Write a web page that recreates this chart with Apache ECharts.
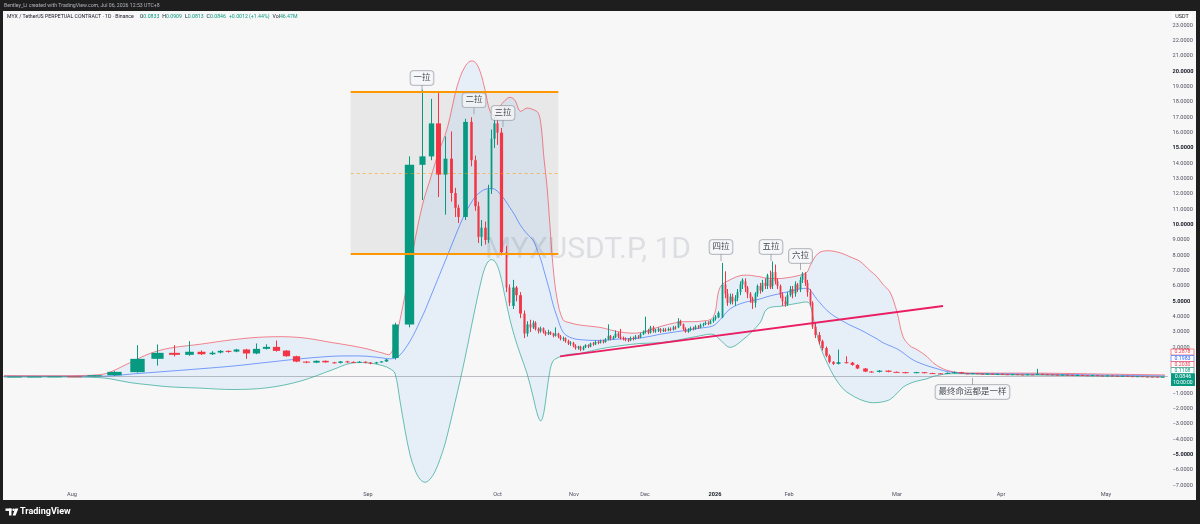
<!DOCTYPE html>
<html>
<head>
<meta charset="utf-8">
<title>MYXUSDT.P 1D</title>
<script src="https://cdn.jsdelivr.net/npm/echarts@6/dist/echarts.min.js"></script>
<style>
  html, body { margin: 0; padding: 0; background: #1e1e1e; }
  #chart { width: 1200px; height: 524px; }
</style>
</head>
<body>
<div id="chart"></div>
<script>
// 数据
// K线：[横向位置, 开, 收, 低, 高]（截图的时间轴不均匀，位置按图读取）
let candles = [
  [14, 0.09, 0.10, 0.08, 0.11], [34, 0.10, 0.10, 0.09, 0.12], [54, 0.10, 0.11, 0.09, 0.12],
  [74, 0.11, 0.10, 0.09, 0.13], [94, 0.10, 0.18, 0.09, 0.20], [114, 0.18, 0.40, 0.15, 0.45],
  [137, 0.38, 1.25, 0.35, 2.14], [157, 1.25, 1.64, 0.81, 2.18], [174, 1.64, 1.51, 1.40, 2.14],
  [189, 1.51, 1.71, 1.45, 2.40], [201, 1.71, 1.55, 1.50, 1.80], [212, 1.55, 1.65, 1.50, 1.75],
  [220, 1.66, 1.77, 1.60, 1.82], [228, 1.77, 1.70, 1.65, 1.80], [236, 1.72, 1.86, 1.68, 1.90],
  [246, 1.86, 1.60, 1.25, 1.90], [256, 1.60, 1.90, 1.55, 2.25], [266, 1.90, 2.03, 1.85, 2.20],
  [276, 2.03, 1.77, 1.72, 2.44], [286, 1.79, 1.42, 1.38, 1.82], [296, 1.42, 1.07, 1.03, 1.45],
  [306, 1.07, 1.00, 0.96, 1.10], [316, 1.00, 1.12, 0.97, 1.15], [325, 1.12, 1.02, 1.00, 1.14],
  [334, 1.02, 0.98, 0.95, 1.05], [340, 0.98, 1.08, 0.95, 1.10], [347, 1.08, 1.05, 1.00, 1.12],
  [353, 1.05, 1.02, 0.98, 1.08], [359, 1.02, 1.06, 0.98, 1.10], [365, 1.06, 1.00, 0.96, 1.08],
  [370, 1.00, 0.96, 0.90, 1.04], [376, 0.96, 1.02, 0.92, 1.05], [381, 1.02, 1.08, 1.00, 1.10],
  [386, 1.08, 1.20, 1.05, 1.25],
  [395, 1.30, 3.49, 1.20, 3.60], [409, 3.49, 13.9, 3.30, 14.45], [422, 13.9, 14.45, 11.6, 18.8],
  [430.5, 14.45, 16.6, 14.2, 18.2], [438, 16.6, 13.26, 11.8, 18.6], [445, 13.26, 14.3, 10.65, 15.75],
  [450.5, 14.3, 12.06, 11.5, 16.08], [454.5, 12.06, 11.1, 10.5, 12.4], [458, 11.1, 10.5, 10.1, 11.3],
  [464.5, 10.5, 16.7, 10.3, 16.9], [471, 16.7, 14.2, 13.8, 17.0], [474.5, 14.2, 11.2, 10.9, 14.5],
  [478, 11.2, 9.2, 8.8, 11.5], [481, 9.2, 9.8, 8.6, 10.3], [484.5, 9.8, 9.0, 8.7, 10.2],
  [488, 9.0, 12.3, 8.8, 12.6], [490.5, 12.3, 15.6, 12.0, 16.2], [493.5, 15.6, 16.6, 15.0, 17.0],
  [496.5, 16.6, 16.0, 15.2, 16.9], [501, 16.0, 8.2, 8.0, 16.3], [506, 8.2, 5.9, 5.6, 8.6],
  [508.5, 5.9, 4.9, 4.7, 6.1], [512.5, 4.7, 5.9, 4.5, 6.4], [516, 5.9, 5.4, 5.0, 6.0],
  [520, 5.4, 4.2, 3.9, 5.6], [524, 4.2, 2.9, 2.6, 4.4], [527, 2.9, 3.5, 2.7, 3.7],
  [530, 3.5, 3.3, 3.0, 3.8], [532.5, 3.3, 3.6, 3.2, 3.75], [535, 3.6, 3.2, 3.1, 3.7],
  [537.5, 3.2, 3.05, 2.9, 3.3], [540, 3.05, 3.25, 2.95, 3.35], [542.5, 3.25, 3.0, 2.9, 3.3],
  [545, 3.0, 2.85, 2.75, 3.1], [547.5, 2.85, 3.0, 2.8, 3.15], [550, 3.0, 2.9, 2.8, 3.05],
  [552.5, 2.9, 2.75, 2.65, 2.95], [555, 2.75, 2.9, 2.7, 3.3], [557.5, 2.9, 2.7, 2.6, 2.95],
  [560, 2.7, 2.55, 2.45, 2.8], [562.5, 2.55, 2.6, 2.4, 2.7], [565, 2.6, 2.4, 2.3, 2.65],
  [567.5, 2.4, 2.25, 2.15, 2.5], [570, 2.25, 2.3, 2.1, 2.4], [572.5, 2.3, 2.1, 2.0, 2.35],
  [575, 2.1, 1.95, 1.85, 2.2], [577.5, 1.95, 2.05, 1.85, 2.1], [580, 2.05, 1.85, 1.75, 2.1],
  [582.5, 1.85, 2.0, 1.8, 2.1], [585, 2.0, 2.15, 1.95, 2.2], [587.5, 2.15, 2.05, 1.95, 2.2],
  [590, 2.05, 2.25, 2.0, 2.3], [592.5, 2.25, 2.2, 2.1, 2.35], [595, 2.2, 2.35, 2.15, 2.45],
  [597.5, 2.35, 2.3, 2.2, 2.45], [600, 2.3, 2.4, 2.25, 2.5], [602.5, 2.4, 2.35, 2.25, 2.5],
  [605, 2.35, 2.5, 2.3, 2.6], [607.5, 2.5, 2.75, 2.45, 3.5], [610, 2.75, 2.55, 2.45, 2.8],
  [612.5, 2.55, 2.65, 2.5, 2.75], [615, 2.65, 2.9, 2.6, 3.1], [617.5, 2.9, 2.7, 2.6, 3.0],
  [620, 2.7, 2.6, 2.5, 3.2], [622.5, 2.6, 2.55, 2.45, 2.7], [625, 2.55, 2.5, 2.4, 2.65],
  [627.5, 2.5, 2.45, 2.35, 2.6], [630, 2.45, 2.6, 2.4, 2.7], [632.5, 2.6, 2.55, 2.45, 2.7],
  [635, 2.55, 2.7, 2.5, 2.8], [637.5, 2.7, 2.65, 2.55, 2.8], [640, 2.65, 2.85, 2.6, 2.95],
  [642.5, 2.85, 3.0, 2.8, 3.1], [645, 3.0, 3.1, 2.9, 4.0], [647.5, 3.1, 2.95, 2.85, 3.2],
  [650, 2.95, 3.3, 2.9, 3.4], [652.5, 3.3, 3.05, 2.95, 3.4], [655, 3.05, 3.1, 2.95, 3.2],
  [657.5, 3.1, 3.2, 3.0, 3.3], [660, 3.2, 3.05, 2.95, 3.25], [662.5, 3.05, 3.15, 3.0, 3.25],
  [665, 3.15, 3.1, 3.0, 3.25], [667.5, 3.1, 3.2, 3.05, 3.3], [670, 3.2, 3.15, 3.05, 3.3],
  [672.5, 3.15, 3.3, 3.1, 3.4], [675, 3.3, 3.25, 3.15, 3.4], [677.5, 3.3, 3.7, 3.25, 3.9],
  [680, 3.7, 3.5, 3.4, 3.8], [682.5, 3.5, 3.2, 3.1, 3.55], [685, 3.2, 3.0, 2.95, 3.3],
  [687.5, 3.0, 3.15, 2.95, 3.25], [690, 3.15, 3.25, 3.05, 3.35], [692.5, 3.25, 3.2, 3.1, 3.35],
  [695, 3.2, 3.35, 3.15, 3.45], [697.5, 3.35, 3.3, 3.2, 3.45], [700, 3.3, 3.45, 3.25, 3.55],
  [702.5, 3.45, 3.5, 3.35, 3.6], [705, 3.5, 3.6, 3.45, 3.7], [707.5, 3.6, 3.55, 3.45, 3.7],
  [710, 3.55, 3.7, 3.5, 3.8], [712.5, 3.7, 3.85, 3.6, 3.95], [715, 3.85, 4.0, 3.75, 4.1],
  [718, 3.95, 4.25, 3.9, 4.35], [722, 3.95, 6.1, 3.9, 7.5],
  [724.5, 6.1, 5.5, 5.2, 6.96], [727, 5.5, 4.9, 4.7, 5.8], [729.5, 4.9, 5.3, 4.8, 5.5],
  [732, 5.3, 5.0, 4.8, 5.5], [734.5, 5.0, 5.2, 4.7, 5.4], [737, 5.2, 5.6, 5.0, 5.8],
  [739.5, 5.6, 6.1, 5.4, 6.3], [742, 6.1, 6.4, 5.8, 6.5], [744.5, 6.3, 5.9, 5.6, 6.5],
  [747, 5.9, 5.5, 5.2, 6.0], [749.5, 5.5, 5.2, 4.9, 5.6], [752, 5.2, 4.9, 4.5, 5.3],
  [754.5, 4.9, 5.5, 4.6, 5.6], [757, 5.5, 6.0, 5.3, 6.1], [759.5, 6.0, 5.7, 5.5, 6.2],
  [762, 5.7, 6.2, 5.6, 6.4], [764.5, 6.2, 6.0, 5.8, 6.5], [767, 6.0, 6.7, 5.8, 6.8],
  [769.5, 6.4, 5.9, 5.8, 7.0], [772, 6.0, 6.9, 5.8, 7.6], [774.5, 6.9, 6.3, 6.1, 7.4],
  [777, 6.3, 6.0, 5.8, 6.5], [779.5, 6.0, 5.4, 5.2, 6.1], [782, 5.4, 5.0, 4.7, 5.6],
  [784.5, 5.0, 4.8, 4.65, 5.3], [787, 4.8, 5.4, 4.7, 5.6], [789.5, 5.4, 5.8, 5.3, 6.0],
  [792, 5.8, 5.5, 5.2, 6.0], [794.5, 5.5, 6.1, 5.3, 6.3], [797, 6.1, 5.8, 5.6, 6.2],
  [799.5, 5.8, 6.4, 5.6, 6.6], [802, 6.4, 6.8, 6.2, 6.9], [804.5, 6.8, 6.2, 6.0, 6.9],
  [807, 6.2, 5.6, 5.3, 6.4], [809.5, 5.6, 4.9, 4.7, 5.8], [812, 4.9, 3.35, 3.2, 5.0],
  [815, 3.35, 2.8, 2.6, 3.6], [818.5, 2.8, 2.4, 2.2, 3.0], [822, 2.4, 1.95, 1.8, 2.5],
  [825.5, 1.95, 1.45, 1.35, 2.05], [829, 1.45, 1.05, 0.95, 1.55], [832.5, 1.05, 0.92, 0.85, 1.1],
  [838, 0.92, 1.03, 0.88, 1.86], [846, 1.03, 1.0, 0.95, 1.42], [851.5, 1.0, 0.85, 0.8, 1.05],
  [856.5, 0.85, 0.62, 0.58, 0.9], [864.5, 0.62, 0.42, 0.38, 0.65], [871, 0.42, 0.40, 0.36, 0.45],
  [878.5, 0.40, 0.48, 0.36, 0.52], [887.5, 0.48, 0.40, 0.37, 0.5], [896, 0.40, 0.38, 0.35, 0.42],
  [905, 0.38, 0.33, 0.3, 0.4], [915.5, 0.33, 0.38, 0.31, 0.4], [923.5, 0.38, 0.32, 0.3, 0.39],
  [932, 0.32, 0.30, 0.28, 0.34], [940, 0.30, 0.28, 0.26, 0.31], [947, 0.28, 0.33, 0.27, 0.36],
  [953.5, 0.33, 0.38, 0.3, 0.42], [960.5, 0.38, 0.30, 0.28, 0.4],
  [967, 0.30, 0.29, 0.27, 0.32], [972, 0.29, 0.31, 0.28, 0.33], [977, 0.31, 0.28, 0.27, 0.32],
  [982, 0.28, 0.27, 0.25, 0.29], [987, 0.27, 0.28, 0.26, 0.30], [992, 0.28, 0.26, 0.25, 0.29],
  [997, 0.26, 0.27, 0.25, 0.28], [1002, 0.27, 0.25, 0.24, 0.28], [1007, 0.25, 0.24, 0.22, 0.26],
  [1012, 0.24, 0.25, 0.23, 0.27], [1017, 0.25, 0.23, 0.22, 0.26], [1022, 0.23, 0.22, 0.21, 0.24],
  [1027, 0.22, 0.24, 0.21, 0.26], [1032, 0.24, 0.23, 0.22, 0.25], [1037, 0.23, 0.27, 0.22, 0.60],
  [1042, 0.27, 0.25, 0.24, 0.29], [1047, 0.25, 0.24, 0.23, 0.27], [1052, 0.24, 0.22, 0.21, 0.25],
  [1057, 0.22, 0.21, 0.20, 0.23], [1062, 0.21, 0.22, 0.20, 0.24], [1067, 0.22, 0.20, 0.19, 0.23],
  [1072, 0.20, 0.19, 0.18, 0.21], [1077, 0.19, 0.20, 0.18, 0.22], [1082, 0.20, 0.18, 0.17, 0.21],
  [1087, 0.18, 0.17, 0.16, 0.19], [1092, 0.17, 0.18, 0.16, 0.20], [1097, 0.18, 0.16, 0.15, 0.19],
  [1102, 0.16, 0.15, 0.14, 0.17], [1107, 0.15, 0.16, 0.14, 0.18], [1112, 0.16, 0.14, 0.13, 0.17],
  [1117, 0.14, 0.13, 0.12, 0.15], [1122, 0.13, 0.14, 0.12, 0.16], [1127, 0.14, 0.12, 0.11, 0.15],
  [1132, 0.12, 0.11, 0.10, 0.13], [1137, 0.11, 0.12, 0.10, 0.13], [1142, 0.12, 0.10, 0.095, 0.125],
  [1147, 0.10, 0.095, 0.09, 0.11], [1152, 0.095, 0.09, 0.085, 0.10], [1157, 0.09, 0.0833, 0.08, 0.095],
  [1162, 0.0833, 0.0846, 0.0813, 0.0909]
];

// 布林带：位置 / 上轨 / 中轨 / 下轨
let bandPos = [4, 40, 80, 100, 110, 130, 150, 170, 200, 233, 267, 300, 333, 350, 367, 383, 390, 395, 400, 405,
  410, 415, 420, 425, 430, 435, 440, 445, 450, 455, 460, 465, 470, 475, 480, 485, 490, 495, 500, 505,
  510, 515, 520, 527, 533, 538, 541, 544, 547, 550, 553, 557, 563, 570, 580, 600, 620, 640, 660, 680,
  700, 713, 720, 730, 743, 760, 767, 783, 800, 807, 810, 815, 820, 827, 835, 843, 850, 860, 870, 877,
  883, 890, 897, 903, 910, 917, 927, 933, 940, 947, 960, 980, 1000, 1050, 1100, 1165];
let bandUpper = [0.16, 0.15, 0.16, 0.22, 0.38, 1.0, 1.6, 1.95, 2.2, 2.5, 2.68, 2.64, 2.3, 2.12, 1.9, 1.62, 1.55, 2.3, 3.8, 5.4,
  7.2, 9.0, 10.6, 11.9, 12.9, 14.0, 15.0, 15.8, 17.0, 18.5, 19.6, 20.3, 20.65, 20.6, 20.0, 18.8, 17.4, 17.1, 17.7, 18.1,
  18.3, 18.1, 17.4, 17.6, 17.5, 17.3, 16.5, 14.3, 12.5, 9.9, 7.3, 5.2, 3.8, 3.6, 3.45, 3.3, 3.0, 2.95, 3.35, 3.65,
  3.7, 3.95, 5.9, 6.4, 6.7, 6.6, 6.5, 6.5, 6.7, 6.9, 7.3, 7.9, 8.2, 8.3, 8.25, 8.1, 7.9, 7.6, 7.0, 6.6,
  6.1, 5.6, 4.3, 2.7, 2.1, 1.85, 1.4, 1.0, 0.7, 0.5, 0.34, 0.33, 0.32, 0.31, 0.26, 0.2];
let bandBasis = [0.11, 0.11, 0.11, 0.12, 0.13, 0.25, 0.35, 0.45, 0.6, 0.78, 1.02, 1.25, 1.42, 1.44, 1.42, 1.3, 1.25, 1.3, 1.5, 1.9,
  2.4, 3.0, 3.7, 4.4, 5.2, 6.0, 6.8, 7.6, 8.4, 9.2, 10.0, 10.7, 11.3, 11.8, 12.1, 12.3, 12.35, 12.3, 12.0, 11.6,
  11.1, 10.6, 10.0, 9.4, 9.0, 8.2, 7.7, 7.0, 6.3, 5.6, 4.8, 4.0, 3.0, 2.65, 2.5, 2.45, 2.55, 2.6, 2.85, 3.05,
  3.25, 3.4, 3.8, 4.5, 4.9, 5.15, 5.3, 5.55, 5.8, 5.85, 5.77, 5.3, 4.9, 4.4, 4.0, 3.7, 3.45, 3.15, 2.8, 2.55,
  2.3, 2.1, 1.9, 1.65, 1.3, 1.05, 0.8, 0.68, 0.55, 0.42, 0.32, 0.29, 0.27, 0.24, 0.19, 0.13];
let bandLower = [0.06, 0.07, 0.06, 0.02, -0.05, -0.3, -0.45, -0.58, -0.66, -0.75, -0.64, -0.21, 0.55, 0.95, 0.99, 0.8, 0.6, 0.3, -1.5, -3.4,
  -5.0, -6.0, -6.6, -6.8, -6.6, -6.1, -5.3, -4.3, -3.0, -1.6, -0.2, 1.3, 2.9, 4.5, 6.0, 7.2, 7.7, 7.6, 6.8, 5.3,
  3.8, 2.6, 1.6, 0.3, -1.2, -2.5, -2.8, -2.2, -0.8, 0.5, 1.1, 1.3, 1.45, 1.55, 1.6, 1.9, 2.1, 2.25, 2.3, 2.5,
  2.75, 2.85, 2.5, 2.0, 2.5, 3.6, 4.5, 4.7, 4.9, 4.95, 4.8, 3.4, 2.1, 1.0, 0.0, -0.7, -1.05, -1.4, -1.6, -1.6,
  -1.55, -1.4, -1.0, -0.6, -0.35, -0.2, -0.05, 0.1, 0.2, 0.27, 0.28, 0.25, 0.22, 0.18, 0.13, 0.07];

// 时间轴刻度
let monthPos = [72, 368, 497.5, 574, 645, 715, 789, 897, 1001, 1106];
let monthNames = ['Aug', 'Sep', 'Oct', 'Nov', 'Dec', '2026', 'Feb', 'Mar', 'Apr', 'May'];

// 标注文字
let noteText = ['一拉', '二拉', '三拉', '四拉', '五拉', '六拉', '最终命运都是一样'];
let notePos = [422, 474, 503, 721, 771, 800.5, 972.5];
let noteValue = [18.65, 17.2, 16.37, 7.63, 7.63, 7.04, 0.0];

// 画线：价格区间矩形、趋势线、最新价
let rangeBox = [[350.7, 18.65], [558.3, 8.09]];
let trendLine = [[560, 1.41], [943, 4.7]];
let lastPrice = 0.0846;

let upColor = '#089981';
let downColor = '#f23645';
let font = 'Roboto, "Noto Sans CJK SC", sans-serif';

function renderCandle(params, api) {
  let i = params.dataIndex;
  let x = api.value(0);
  let open = api.value(1);
  let close = api.value(2);
  let gaps = [];
  if (i > 0) gaps.push(x - candles[i - 1][0]);
  if (i < candles.length - 1) gaps.push(candles[i + 1][0] - x);
  let width = Math.max(1, api.size([Math.min.apply(null, gaps), 0])[0] * 0.72);
  let pOpen = api.coord([x, open]);
  let pClose = api.coord([x, close]);
  let pLow = api.coord([x, api.value(3)]);
  let pHigh = api.coord([x, api.value(4)]);
  let cx = Math.round(pOpen[0]) + 0.5;
  let color = close >= open ? upColor : downColor;
  return {
    type: 'group',
    children: [
      { type: 'line', shape: { x1: cx, y1: pHigh[1], x2: cx, y2: pLow[1] }, style: { stroke: color, lineWidth: 1 } },
      {
        type: 'rect',
        shape: { x: cx - width / 2, y: Math.min(pOpen[1], pClose[1]), width: width, height: Math.max(1, Math.abs(pOpen[1] - pClose[1])) },
        style: { fill: color }
      }
    ]
  };
}

function renderBands(params, api) {
  let up = bandPos.map((p, i) => api.coord([p, bandUpper[i]]));
  let mid = bandPos.map((p, i) => api.coord([p, bandBasis[i]]));
  let low = bandPos.map((p, i) => api.coord([p, bandLower[i]]));
  let smooth = 0.35;
  return {
    type: 'group',
    children: [
      { type: 'polygon', shape: { points: up.concat(low.slice().reverse()), smooth: smooth }, style: { fill: 'rgba(33,150,243,0.08)' } },
      { type: 'polyline', shape: { points: up, smooth: smooth }, style: { stroke: 'rgba(242,54,69,0.75)', lineWidth: 0.8, fill: null } },
      { type: 'polyline', shape: { points: mid, smooth: smooth }, style: { stroke: 'rgba(41,98,255,0.75)', lineWidth: 0.8, fill: null } },
      { type: 'polyline', shape: { points: low, smooth: smooth }, style: { stroke: 'rgba(8,153,129,0.75)', lineWidth: 0.8, fill: null } }
    ]
  };
}

// 右侧价格标签
let priceTags = [
  { y: 352, text: '0.2878', color: '#f23645' },
  { y: 358.5, text: '0.1983', color: '#2962ff' },
  { y: 364.5, text: '0.2030', color: '#f23645' },
  { y: 370.5, text: '0.1108', color: '#089981' }
];
let tagGraphics = [];
priceTags.forEach(t => {
  tagGraphics.push({
    type: 'rect', z: 110, shape: { x: 1171, y: t.y - 3, width: 23, height: 6 },
    style: { fill: '#ffffff', stroke: t.color, lineWidth: 0.6 }
  });
  tagGraphics.push({
    type: 'text', z: 111, x: 1182.5, y: t.y,
    style: { text: t.text, fill: t.color, fontSize: 5.2, fontFamily: font, align: 'center', verticalAlign: 'middle' }
  });
});

let chart = echarts.init(document.getElementById('chart'));
let option = {
  animation: false,
  backgroundColor: '#1e1e1e',
  textStyle: { fontFamily: font },
  grid: { left: 0, right: 32, top: 9.9, bottom: 23.3 },
  xAxis: {
    type: 'value', min: 0, max: 1168,
    splitLine: { show: false }, axisLine: { show: false }, axisTick: { show: false },
    z: 10,
    axisLabel: {
      customValues: monthPos,
      margin: -6.5,
      verticalAlign: 'middle',
      fontSize: 5.6,
      color: '#50535e',
      formatter: v => {
        let name = monthNames[monthPos.indexOf(v)];
        return name === '2026' ? '{b|2026}' : name;
      },
      rich: { b: { fontSize: 5.6, fontWeight: 'bold', color: '#131722' } }
    }
  },
  yAxis: {
    type: 'value', position: 'right', min: -8, max: 24, interval: 1,
    splitLine: { show: false }, axisLine: { show: false }, axisTick: { show: false },
    axisLabel: {
      margin: 4.5,
      fontSize: 5.6,
      color: '#50535e',
      formatter: v => {
        if (v <= -8 || v >= 24) return '';
        let s = (v < 0 ? '\u2212' : '') + Math.abs(v).toFixed(4);
        return v !== 0 && v % 5 === 0 ? '{b|' + s + '}' : s;
      },
      rich: { b: { fontSize: 5.6, fontWeight: 'bold', color: '#131722' } }
    }
  },
  series: [
    {
      name: 'BB', type: 'custom', silent: true, z: 2,
      data: [0],
      renderItem: renderBands
    },
    {
      name: 'MYXUSDT.P', type: 'custom', silent: true, z: 3,
      data: candles,
      encode: { x: 0, y: [1, 2, 3, 4] },
      renderItem: renderCandle
    },
    {
      name: 'drawings', type: 'line', data: [], silent: true, z: 5,
      markArea: {
        silent: true,
        itemStyle: { color: 'rgba(120,123,134,0.12)' },
        label: { show: false },
        data: [[{ coord: rangeBox[0] }, { coord: rangeBox[1] }]]
      },
      markLine: {
        silent: true,
        symbol: ['none', 'none'],
        label: { show: false },
        data: [
          [{ coord: [rangeBox[0][0], rangeBox[0][1]], lineStyle: { color: '#ff9800', width: 2, type: 'solid' } },
           { coord: [rangeBox[1][0], rangeBox[0][1]] }],
          [{ coord: [rangeBox[0][0], rangeBox[1][1]], lineStyle: { color: '#ff9800', width: 2, type: 'solid' } },
           { coord: [rangeBox[1][0], rangeBox[1][1]] }],
          [{ coord: [rangeBox[0][0], (rangeBox[0][1] + rangeBox[1][1]) / 2], lineStyle: { color: 'rgba(255,152,0,0.55)', width: 1, type: [3, 3] } },
           { coord: [rangeBox[1][0], (rangeBox[0][1] + rangeBox[1][1]) / 2] }],
          [{ coord: trendLine[0], lineStyle: { color: '#e91e63', width: 2, type: 'solid' } },
           { coord: trendLine[1] }],
          [{ coord: [0, lastPrice], lineStyle: { color: 'rgba(120,123,134,0.45)', width: 1, type: 'solid' } },
           { coord: [1168, lastPrice] }]
        ]
      }
    },
    {
      name: 'notes', type: 'scatter', silent: true, z: 6,
      symbol: 'rect',
      symbolSize: [1, 7],
      itemStyle: { color: '#9598a1' },
      data: noteText.map((t, i) => {
        let below = noteValue[i] < 1;
        return {
          name: t,
          value: [notePos[i], noteValue[i]],
          symbolOffset: [0, below ? 3.5 : -3.5],
          label: { position: below ? 'bottom' : 'top' }
        };
      }),
      label: {
        show: true,
        formatter: '{b}',
        distance: 0,
        fontSize: 8.5,
        lineHeight: 10,
        color: '#131722',
        backgroundColor: '#f5f6f8',
        borderColor: '#9598a1',
        borderWidth: 0.8,
        borderRadius: 3,
        padding: [2, 3]
      }
    }
  ],
  graphic: [
    { type: 'rect', z: -100, shape: { x: 3, y: 11, width: 1193, height: 489 }, style: { fill: '#f7f7f8' } },
    {
      type: 'text', z: -50, x: 588, y: 250,
      style: { text: 'MYXUSDT.P, 1D', fontSize: 30, fontFamily: font, fill: 'rgba(120,123,134,0.2)', align: 'center', verticalAlign: 'middle' }
    },
    { type: 'rect', z: 100, shape: { x: 0, y: 0, width: 1200, height: 11 }, style: { fill: '#1e1e1e' } },
    { type: 'rect', z: 100, shape: { x: 0, y: 500, width: 1200, height: 24 }, style: { fill: '#1e1e1e' } },
    { type: 'rect', z: 100, shape: { x: 0, y: 0, width: 3, height: 524 }, style: { fill: '#1e1e1e' } },
    { type: 'rect', z: 100, shape: { x: 1196, y: 0, width: 4, height: 524 }, style: { fill: '#1e1e1e' } },
    {
      type: 'text', z: 101, x: 4, y: 5.5,
      style: { text: 'Bentley_Li created with TradingView.com, Jul 06, 2026 12:53 UTC+8', fontSize: 5.2, fontFamily: font, fill: '#b2b5be', verticalAlign: 'middle' }
    },
    {
      type: 'text', z: 101, x: 7, y: 16.8,
      style: {
        text: '{t|MYX / TetherUS PERPETUAL CONTRACT · 1D · Binance}  {k|O}{v|0.0833} {k|H}{v|0.0909} {k|L}{v|0.0813} {k|C}{v|0.0846} {v|+0.0012 (+1.44%)} {k|Vol}{v|46.47M}',
        verticalAlign: 'middle',
        fontFamily: font,
        rich: {
          t: { fill: '#131722', fontSize: 5.2, fontFamily: font },
          k: { fill: '#131722', fontSize: 5.2, fontFamily: font },
          v: { fill: '#089981', fontSize: 5.2, fontFamily: font }
        }
      }
    },
    { type: 'rect', z: 101, shape: { x: 1172, y: 13, width: 20, height: 8 }, style: { fill: '#ffffff' } },
    {
      type: 'text', z: 102, x: 1182, y: 17,
      style: { text: 'USDT', fontSize: 5.4, fontFamily: font, fill: '#131722', align: 'center', verticalAlign: 'middle' }
    },
    ...tagGraphics,
    { type: 'rect', z: 110, shape: { x: 1171, y: 373.5, width: 24, height: 12.5 }, style: { fill: '#089981' } },
    {
      type: 'text', z: 111, x: 1183, y: 377,
      style: { text: '0.0846', fontSize: 5.4, fontFamily: font, fill: '#ffffff', align: 'center', verticalAlign: 'middle' }
    },
    {
      type: 'text', z: 111, x: 1183, y: 382.5,
      style: { text: '10:00:00', fontSize: 5, fontFamily: font, fill: '#ffffff', align: 'center', verticalAlign: 'middle' }
    },
    // TradingView 标志
    { type: 'rect', z: 101, shape: { x: 5.5, y: 508.5, width: 6, height: 2.4 }, style: { fill: '#ffffff' } },
    { type: 'rect', z: 101, shape: { x: 9, y: 508.5, width: 2.5, height: 7 }, style: { fill: '#ffffff' } },
    { type: 'circle', z: 101, shape: { cx: 13.6, cy: 509.8, r: 1.3 }, style: { fill: '#ffffff' } },
    { type: 'polygon', z: 101, shape: { points: [[15.2, 508.5], [18.4, 508.5], [15.6, 515.5], [12.6, 515.5]] }, style: { fill: '#ffffff' } },
    {
      type: 'text', z: 101, x: 20, y: 512,
      style: { text: 'TradingView', fontSize: 9, fontWeight: 'bold', fontFamily: font, fill: '#ffffff', verticalAlign: 'middle' }
    }
  ]
};
chart.setOption(option);
</script>
</body>
</html>
